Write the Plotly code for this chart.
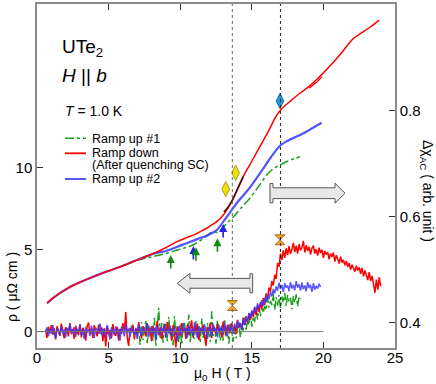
import numpy as np
import plotly.graph_objects as go

FONT = "Liberation Sans, Arial, Helvetica, sans-serif"

# ---------------- resistivity (left axis) ----------------
red_rho_T = [0.70, 1.0, 1.4, 1.9, 2.33, 2.9, 3.49, 4.1, 4.66, 5.25, 5.82, 6.4, 6.98, 7.55, 8.15, 8.7,
             9.2, 9.78, 10.4, 11.0, 11.5, 12.0, 12.55, 12.9, 13.25, 13.6, 14.0, 14.4, 15.0, 15.6, 16.2,
             16.7, 17.0, 17.3, 17.8, 18.4, 19.0, 19.5, 20.0, 20.6, 21.2, 21.7, 22.1, 22.6, 23.2, 23.9]
red_rho = [1.73, 1.98, 2.23, 2.50, 2.74, 2.97, 3.19, 3.40, 3.60, 3.78, 3.96, 4.16, 4.37, 4.57, 4.78, 5.00,
           5.22, 5.49, 5.72, 5.92, 6.15, 6.40, 6.71, 7.00, 7.42, 7.95, 8.70, 9.46, 10.40, 11.35, 12.30,
           13.15, 13.52, 13.78, 14.15, 14.58, 14.97, 15.36, 15.80, 16.35, 16.95, 17.50, 17.90, 18.20, 18.55, 19.02]

red_loop_T = [19.0, 19.5, 19.9]
red_loop_rho = [14.85, 15.20, 15.55]

dark_T = [13.05, 13.3, 13.6, 14.0, 14.4]
dark_rho = [7.30, 7.55, 7.95, 8.70, 9.46]

blue_rho_T = [0.70, 1.4, 2.33, 3.49, 4.66, 5.82, 6.98, 8.15, 9.06, 10.0, 11.15, 12.0, 12.55, 13.13,
              13.5, 14.0, 14.87, 15.6, 16.3, 16.97, 17.5, 18.37, 19.1, 19.88]
blue_rho = [1.73, 2.23, 2.74, 3.19, 3.60, 3.96, 4.37, 4.76, 4.94, 5.25, 5.63, 5.92, 6.20, 6.86,
            7.30, 7.90, 8.80, 9.70, 10.60, 11.35, 11.65, 12.00, 12.35, 12.75]

green_rho_T = [6.96, 7.5, 8.0, 8.5, 9.06, 9.6, 10.2, 10.9, 11.5, 12.0, 12.3, 12.6, 12.9, 13.25, 13.7,
               14.2, 14.87, 15.5, 16.04, 16.5, 16.97, 17.5, 18.0, 18.37]
green_rho = [4.37, 4.46, 4.56, 4.66, 4.78, 4.93, 5.08, 5.29, 5.62, 5.95, 6.10, 6.05, 6.25, 6.61, 7.00,
             7.50, 8.15, 8.90, 9.56, 9.95, 10.17, 10.40, 10.57, 10.68]

# ---------------- susceptibility (right axis), field sweeps, 0.1 T per reading ----------------
red_chi_start, red_chi_step = 0.6, 0.1
red_chi = [0.386, 0.371, 0.392, 0.380, 0.395, 0.377, 0.389, 0.368, 0.393, 0.381,
           0.375, 0.398, 0.383, 0.370, 0.391, 0.386, 0.374, 0.399, 0.380, 0.388,
           0.369, 0.394, 0.382, 0.376, 0.397, 0.372, 0.390, 0.384, 0.366, 0.392,
           0.400, 0.378, 0.388, 0.371, 0.395, 0.383, 0.374, 0.396, 0.379, 0.391,
           0.365, 0.389, 0.355, 0.393, 0.377, 0.386, 0.370, 0.397, 0.382, 0.375,
           0.392, 0.366, 0.388, 0.379, 0.399, 0.384, 0.420, 0.372, 0.356, 0.390,
           0.381, 0.396, 0.368, 0.389, 0.377, 0.401, 0.383, 0.370, 0.393, 0.386,
           0.374, 0.399, 0.381, 0.390, 0.365, 0.394, 0.379, 0.387, 0.403, 0.376,
           0.391, 0.369, 0.384, 0.397, 0.373, 0.401, 0.380, 0.389, 0.366, 0.395,
           0.378, 0.353, 0.392, 0.385, 0.374, 0.399, 0.382, 0.390, 0.369, 0.396,
           0.377, 0.388, 0.404, 0.372, 0.393, 0.381, 0.398, 0.367, 0.389, 0.384,
           0.395, 0.376, 0.356, 0.391, 0.383, 0.400, 0.371, 0.394, 0.386, 0.379,
           0.398, 0.382, 0.390, 0.372, 0.402, 0.385, 0.376, 0.396, 0.389, 0.381,
           0.399, 0.384, 0.393, 0.378, 0.405, 0.390, 0.398, 0.386, 0.409, 0.395,
           0.412, 0.399, 0.417, 0.405, 0.421, 0.410, 0.428, 0.414, 0.432, 0.420,
           0.438, 0.426, 0.446, 0.433, 0.455, 0.444, 0.466, 0.458, 0.478, 0.470,
           0.490, 0.482, 0.512, 0.505, 0.530, 0.518, 0.536, 0.522, 0.540, 0.527,
           0.544, 0.529, 0.538, 0.550, 0.533, 0.545, 0.530, 0.548, 0.536, 0.541,
           0.554, 0.532, 0.546, 0.535, 0.543, 0.528, 0.540, 0.545, 0.530, 0.538,
           0.526, 0.541, 0.531, 0.537, 0.522, 0.535, 0.528, 0.533, 0.519, 0.530,
           0.524, 0.532, 0.515, 0.527, 0.520, 0.511, 0.524, 0.513, 0.518, 0.508,
           0.516, 0.505, 0.512, 0.500, 0.509, 0.503, 0.496, 0.507, 0.498, 0.504,
           0.492, 0.503, 0.487, 0.498, 0.490, 0.480, 0.495, 0.478, 0.488, 0.472,
           0.456, 0.481, 0.462, 0.485, 0.468]

blue_chi_start, blue_chi_step = 0.6, 0.1
blue_chi = [0.383, 0.391, 0.374, 0.388, 0.379, 0.395, 0.381, 0.370, 0.389, 0.385,
            0.376, 0.393, 0.380, 0.387, 0.372, 0.390, 0.384, 0.397, 0.378, 0.386,
            0.391, 0.373, 0.388, 0.382, 0.396, 0.376, 0.385, 0.369, 0.392, 0.381,
            0.387, 0.375, 0.394, 0.383, 0.371, 0.390, 0.386, 0.379, 0.398, 0.377,
            0.389, 0.372, 0.384, 0.395, 0.380, 0.368, 0.391, 0.383, 0.376, 0.393,
            0.379, 0.388, 0.366, 0.392, 0.385, 0.374, 0.397, 0.381, 0.389, 0.373,
            0.394, 0.382, 0.377, 0.390, 0.369, 0.396, 0.384, 0.375, 0.391, 0.380,
            0.387, 0.399, 0.372, 0.385, 0.393, 0.378, 0.390, 0.367, 0.395, 0.383,
            0.376, 0.391, 0.384, 0.398, 0.371, 0.388, 0.380, 0.394, 0.374, 0.386,
            0.392, 0.379, 0.365, 0.393, 0.386, 0.376, 0.399, 0.382, 0.389, 0.371,
            0.396, 0.381, 0.388, 0.374, 0.401, 0.385, 0.370, 0.393, 0.380, 0.390,
            0.377, 0.397, 0.384, 0.369, 0.392, 0.386, 0.375, 0.398, 0.382, 0.389,
            0.372, 0.395, 0.383, 0.391, 0.378, 0.400, 0.387, 0.374, 0.396, 0.385,
            0.392, 0.379, 0.398, 0.388, 0.403, 0.391, 0.399, 0.386, 0.407, 0.395,
            0.410, 0.401, 0.418, 0.407, 0.423, 0.414, 0.430, 0.420, 0.436, 0.427,
            0.434, 0.442, 0.431, 0.447, 0.438, 0.452, 0.444, 0.458, 0.449, 0.463,
            0.455, 0.468, 0.460, 0.475, 0.463, 0.471, 0.458, 0.474, 0.466, 0.470,
            0.459, 0.476, 0.464, 0.471, 0.461, 0.478, 0.466, 0.472, 0.460, 0.475,
            0.463, 0.470, 0.459, 0.476, 0.465, 0.471, 0.458, 0.474, 0.462, 0.469,
            0.464, 0.473, 0.467]

green_chi_start, green_chi_step = 7.0, 0.1
green_chi = [0.372, 0.390, 0.358, 0.401, 0.367, 0.383, 0.405, 0.361, 0.394, 0.378,
             0.392, 0.366, 0.409, 0.356, 0.385, 0.428, 0.371, 0.399, 0.362, 0.390,
             0.398, 0.365, 0.411, 0.376, 0.389, 0.357, 0.412, 0.374, 0.395, 0.363,
             0.396, 0.358, 0.387, 0.402, 0.368, 0.381, 0.415, 0.362, 0.392, 0.374,
             0.369, 0.403, 0.377, 0.393, 0.362, 0.408, 0.371, 0.389, 0.359, 0.399,
             0.380, 0.364, 0.421, 0.375, 0.392, 0.360, 0.404, 0.381, 0.366, 0.395,
             0.366, 0.407, 0.372, 0.391, 0.360, 0.398, 0.378, 0.364, 0.392, 0.370,
             0.388, 0.401, 0.372, 0.395, 0.382, 0.410, 0.386, 0.403, 0.395, 0.418,
             0.392, 0.411, 0.401, 0.425, 0.406, 0.429, 0.412, 0.436, 0.418, 0.431,
             0.423, 0.446, 0.428, 0.441, 0.433, 0.455, 0.424, 0.448, 0.432, 0.452,
             0.427, 0.449, 0.437, 0.456, 0.431, 0.452, 0.439, 0.447, 0.425, 0.450,
             0.438, 0.453, 0.430, 0.449, 0.444]

red_chi_T = red_chi_start + red_chi_step * np.arange(len(red_chi))
blue_chi_T = blue_chi_start + blue_chi_step * np.arange(len(blue_chi))
green_chi_T = green_chi_start + green_chi_step * np.arange(len(green_chi))

# ---------------- markers ----------------
yellow_T = [13.18, 13.87]
yellow_rho = [8.7, 9.7]
cyan_T = [16.97]
cyan_rho = [14.08]
orange_T = [16.97, 13.64]
orange_chi = [0.556, 0.432]

# small up-arrows (tip positions)
arrow_T = [9.34, 10.92, 11.10, 12.60, 13.00]
arrow_rho = [4.67, 5.22, 5.15, 5.70, 6.57]
arrow_col = ["#118811", "#2222ee", "#118811", "#118811", "#2222ee"]

vlines_T = [13.64, 17.0]

RED = "#ff0000"
BLUE = "rgba(55,55,255,0.85)"
GREEN = "#16a016"

fig = go.Figure()

# noisy chi traces
fig.add_trace(go.Scatter(x=green_chi_T, y=green_chi, yaxis="y2", mode="lines",
                         line=dict(color=GREEN, width=1.4, dash="dashdot"), showlegend=False))
fig.add_trace(go.Scatter(x=red_chi_T, y=red_chi, yaxis="y2", mode="lines",
                         line=dict(color=RED, width=1.5), showlegend=False))
fig.add_trace(go.Scatter(x=blue_chi_T, y=blue_chi, yaxis="y2", mode="lines",
                         line=dict(color=BLUE, width=1.5), showlegend=False))

# rho traces
fig.add_trace(go.Scatter(x=green_rho_T, y=green_rho, mode="lines", line_shape="spline",
                         line=dict(color=GREEN, width=1.5, dash="dashdot"), showlegend=False))
fig.add_trace(go.Scatter(x=blue_rho_T, y=blue_rho, mode="lines", line_shape="spline",
                         line=dict(color=BLUE, width=2.2), showlegend=False))
fig.add_trace(go.Scatter(x=red_rho_T, y=red_rho, mode="lines", line_shape="spline",
                         line=dict(color=RED, width=1.5), showlegend=False))
fig.add_trace(go.Scatter(x=red_loop_T, y=red_loop_rho, mode="lines",
                         line=dict(color=RED, width=1.3), showlegend=False))
fig.add_trace(go.Scatter(x=dark_T, y=dark_rho, mode="lines", line_shape="spline",
                         line=dict(color="#4a1010", width=1.6), showlegend=False))

# markers
fig.add_trace(go.Scatter(x=yellow_T, y=yellow_rho, mode="markers",
                         marker=dict(symbol="diamond-tall", size=11, color="#f2e20a",
                                     line=dict(color="#9a8c00", width=0.8)), showlegend=False))
fig.add_trace(go.Scatter(x=cyan_T, y=cyan_rho, mode="markers",
                         marker=dict(symbol="diamond-tall", size=11, color="#1e9ad8",
                                     line=dict(color="#0d5a88", width=0.8)), showlegend=False))
fig.add_trace(go.Scatter(x=orange_T, y=orange_chi, yaxis="y2", mode="markers",
                         marker=dict(symbol="hourglass", size=10, color="#f5a623",
                                     line=dict(color="#8a5a00", width=0.8)), showlegend=False))

shapes = []
# baseline at zero
shapes.append(dict(type="line", xref="x", yref="y", x0=0, x1=20, y0=0, y1=0,
                   line=dict(color="#777777", width=1)))
# vertical lines
shapes.append(dict(type="line", xref="x", yref="paper", x0=vlines_T[0], x1=vlines_T[0], y0=0, y1=1,
                   line=dict(color="#666666", width=1, dash="dot")))
shapes.append(dict(type="line", xref="x", yref="paper", x0=vlines_T[1], x1=vlines_T[1], y0=0, y1=1,
                   line=dict(color="#222222", width=1, dash="3px,3px")))
# big gray arrows
left_arrow = ("M 9.80,2.95 L 10.68,3.56 L 10.68,3.25 L 14.87,3.25 L 14.87,3.53 L 15.06,3.53 "
              "L 15.06,2.37 L 14.87,2.37 L 14.87,2.65 L 10.68,2.65 L 10.68,2.34 Z")
right_arrow = ("M 21.51,8.45 L 20.81,9.06 L 20.81,8.78 L 16.48,8.78 L 16.48,9.04 L 16.27,9.04 "
               "L 16.27,7.86 L 16.48,7.86 L 16.48,8.12 L 20.81,8.12 L 20.81,7.84 Z")
for p in (left_arrow, right_arrow):
    shapes.append(dict(type="path", xref="x", yref="y", path=p,
                       fillcolor="#e8e8e8", line=dict(color="#555555", width=1)))

# legend (custom)
def px2paper_x(px):
    return (px - 37) / 358.0

def py2paper_y(py):
    return (348 - py) / 344.0

leg_rows = [138.3, 153.3, 179.0]
leg_styles = [dict(color=GREEN, width=1.5, dash="dashdot"),
              dict(color=RED, width=1.8),
              dict(color=BLUE, width=2)]
for r, st in zip(leg_rows, leg_styles):
    shapes.append(dict(type="line", xref="paper", yref="paper",
                       x0=px2paper_x(65), x1=px2paper_x(86), y0=py2paper_y(r), y1=py2paper_y(r), line=st))

annotations = []
def txt(s, px, py, size, anchor="left", angle=0):
    annotations.append(dict(text=s, x=px2paper_x(px), y=py2paper_y(py), xref="paper", yref="paper",
                            xanchor=anchor, yanchor="middle", showarrow=False, textangle=angle,
                            font=dict(family=FONT, size=size, color="black")))

txt("UTe<sub>2</sub>", 60, 48, 19)
txt("<i>H</i> || <i>b</i>", 60, 75, 19)
txt("<i>T</i> = 1.0 K", 63, 111, 14)
txt("Ramp up #1", 90, 138.5, 12.5)
txt("Ramp down", 90, 153.0, 12.5)
txt("(After quenching SC)", 90, 164.5, 12.5)
txt("Ramp up #2", 90, 179.0, 12.5)
txt("ρ ( μΩ cm )", 12, 287, 14, anchor="center", angle=-90)
txt("Δχ<sub>AC</sub> ( arb. unit )", 427, 191, 14, anchor="center", angle=90)
txt("μ<sub>0</sub> H ( T )", 222, 374, 14, anchor="center")

for t, r, c in zip(arrow_T, arrow_rho, arrow_col):
    annotations.append(dict(x=t, y=r, xref="x", yref="y", ax=0, ay=15, text="", showarrow=True,
                            arrowhead=2, arrowsize=1, arrowwidth=1.6, arrowcolor=c))

axis_common = dict(showgrid=False, zeroline=False, showline=True, linecolor="#8c8c8c", linewidth=1.5,
                   ticks="inside", ticklen=6, tickcolor="#333333", tickwidth=1, automargin=False,
                   tickfont=dict(family=FONT, size=15, color="black"))

fig.update_layout(
    width=436, height=384,
    margin=dict(l=37, r=41, t=4, b=36, autoexpand=False),
    paper_bgcolor="white", plot_bgcolor="white",
    showlegend=False,
    xaxis=dict(range=[0, 25], tickvals=[0, 5, 10, 15, 20, 25], mirror="ticks",
               ticklabelstandoff=-5, **axis_common),
    yaxis=dict(range=[-1, 20], tickvals=[0, 5, 10], **axis_common),
    yaxis2=dict(range=[0.352, 1.0005], overlaying="y", side="right",
                tickvals=[0.4, 0.6, 0.8, 1.0], ticktext=["0.4", "0.6", "0.8", "1"], **axis_common),
    shapes=shapes,
    annotations=annotations,
)

fig.write_html("out.html", config={"displayModeBar": False},
               post_script="document.body.style.margin='0';document.body.style.overflow='hidden';")
